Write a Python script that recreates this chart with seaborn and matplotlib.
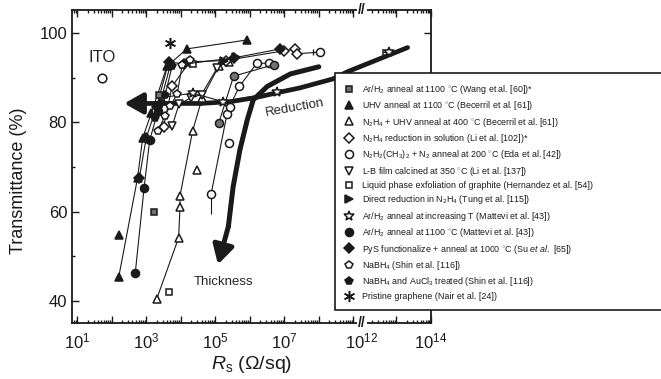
import numpy as np
import matplotlib
matplotlib.use("Agg")
import matplotlib.pyplot as plt
import seaborn as sns
from matplotlib.lines import Line2D
from matplotlib.ticker import FixedLocator, FixedFormatter

# ---- data (R_s in Ohm/sq, transmittance in %) ----
wang_R = [1.7e3, 2.4e3]
wang_T = [59.9, 86.0]

uhv_R = [1.6e2, 5.6e2, 7.9e2, 1.4e3, 4.0e3, 1.5e4, 8.3e5]
uhv_T = [45.4, 67.5, 76.5, 82.0, 92.5, 96.4, 98.4]
uhv_iso_R = [1.6e2]
uhv_iso_T = [54.7]

n2h4_uhv_R = [2.0e3, 8.7e3, 9.5e3, 9.5e3, 2.2e4, 4.2e4, 1.26e5, 2.5e5]
n2h4_uhv_T = [40.4, 54.2, 61.0, 63.5, 78.0, 85.5, 92.5, 93.5]
n2h4_uhv_iso_R = [3.0e4]
n2h4_uhv_iso_T = [69.3]

li_R = [3.2e3, 5.6e3, 1.8e4, 2.0e5, 1.0e7, 2.0e7, 2.3e7]
li_T = [79.0, 88.0, 93.5, 93.8, 96.0, 96.4, 95.3]

eda_R = [7.6e4, 2.2e5, 2.6e5, 5.0e5, 1.6e6, 3.5e6]
eda_T = [64.0, 81.9, 83.5, 88.0, 93.2, 93.2]
eda_iso_R = [2.5e5, 1.1e8]
eda_iso_T = [75.4, 95.7]
eda2_R = [1.26e5, 3.4e5, 5.1e6]
eda2_T = [79.8, 90.3, 92.9]

ito_R = [52]
ito_T = [90.0]

lb_R = [5.6e3, 8.9e3, 2.0e4, 4.0e4, 1.15e5]
lb_T = [79.1, 84.0, 85.5, 86.2, 92.2]

hern_R = [4.5e3, 2.2e4]
hern_T = [42.0, 93.0]

tung_R = [1.8e5, 4.0e5]
tung_T = [93.8, 94.5]

mat_incT_R = [2.8e3, 2.2e4, 1.7e5, 6.3e6]
mat_incT_T = [85.5, 86.5, 84.6, 86.8]
mat_far_R = [6.2e12]
mat_far_T = [95.8]
mat_far_err = [4.2e12]

mat1100_R = [4.8e2, 8.7e2, 1.26e3, 2.2e3, 5.0e3]
mat1100_T = [46.2, 65.4, 76.0, 82.5, 92.8]

pys_R = [6.3e2, 1.0e3, 2.0e3, 4.5e3, 1.26e4, 3.5e5, 7.6e6]
pys_T = [67.5, 76.5, 83.5, 93.5, 93.0, 94.4, 96.4]

nabh4_R = [2.2e3, 3.5e3, 5.0e3, 7.9e3, 1.1e4, 1.9e4]
nabh4_T = [78.0, 81.5, 83.7, 86.3, 92.8, 94.0]

nabh4au_R = [1.8e3, 2.5e3, 3.5e3, 5.6e3]
nabh4au_T = [81.0, 84.0, 86.0, 92.5]

nair_R = [5.0e3]
nair_T = [97.8]

# guide arrows
red_R = [2.1e13, 6.8e8, 2.6e8, 2.9e7, 6.3e6, 1.45e6, 2.7e5, 3.7e4, 2.3e2]
red_T = [96.7, 91.3, 89.7, 87.7, 86.6, 85.5, 84.6, 84.2, 84.2]
thick_R = [1.0e8, 1.5e7, 3.2e6, 1.26e6, 8.5e5, 5.2e5, 3.3e5, 2.4e5, 1.2e5]
thick_T = [92.4, 90.8, 88.0, 85.0, 80.6, 73.9, 65.6, 56.7, 48.2]

labels = [
    r"Ar/H$_2$ anneal at 1100 $^{\circ}$C (Wang et al. [60])*",
    r"UHV anneal at 1100 $^{\circ}$C (Becerril et al. [61])",
    r"N$_2$H$_4$ + UHV anneal at 400 $^{\circ}$C (Becerril et al. [61])",
    r"N$_2$H$_4$ reduction in solution (Li et al. [102])*",
    r"N$_2$H$_2$(CH$_3$)$_2$ + N$_2$ anneal at 200 $^{\circ}$C (Eda et al. [42])",
    r"L-B film calcined at 350 $^{\circ}$C (Li et al. [137])",
    "Liquid phase exfoliation of graphite (Hernandez et al. [54])",
    r"Direct reduction in N$_2$H$_4$ (Tung et al. [115])",
    r"Ar/H$_2$ anneal at increasing T (Mattevi et al. [43])",
    r"Ar/H$_2$ anneal at 1100 $^{\circ}$C (Mattevi et al. [43])",
    r"PyS functionalize + anneal at 1000 $^{\circ}$C (Su $et\ al.$ [65])",
    r"NaBH$_4$ (Shin et al. [116])",
    r"NaBH$_4$ and AuCl$_3$ treated (Shin et al. [116])",
    "Pristine graphene (Nair et al. [24])",
]

sns.set_theme(style="ticks")
plt.rcParams["font.family"] = ["Liberation Sans", "DejaVu Sans"]
plt.rcParams["mathtext.fontset"] = "custom"
plt.rcParams["mathtext.rm"] = "Liberation Sans"
plt.rcParams["mathtext.it"] = "Liberation Sans:italic"
plt.rcParams["mathtext.bf"] = "Liberation Sans:bold"

# broken log axis: 10^9.2 .. 10^11.95 is cut out
BRK = 9.2
GAP = 2.75


def fwd(x):
    l = np.log10(np.clip(np.asarray(x, dtype=float), 1e-300, None))
    return np.where(l > BRK, l - GAP, l)


def inv(u):
    u = np.asarray(u, dtype=float)
    return np.where(u > BRK, 10 ** (u + GAP), 10 ** u)


fig = plt.figure(figsize=(6.61, 3.79), dpi=100)
ax = fig.add_axes([72 / 661, 1 - 323 / 379, 359 / 661, 313 / 379])
ax.set_xscale("function", functions=(fwd, inv))

MS = 5.8
MEW = 1.1
WHITE = "white"
GRAY = "0.45"


def line(R, T, marker, fc, ms=MS):
    sns.lineplot(x=R, y=T, ax=ax, sort=False, estimator=None, color="k",
                 lw=0.8, marker=marker, ms=ms, mfc=fc, mec="k", mew=MEW,
                 zorder=3)


def pts(R, T, marker, fc, ms=MS):
    sns.lineplot(x=R, y=T, ax=ax, sort=False, estimator=None, color="k",
                 lw=0, marker=marker, ms=ms, mfc=fc, mec="k", mew=MEW,
                 zorder=3)


# thick guide curves
ax.plot(red_R[:-1], red_T[:-1], color="k", lw=3.4, solid_capstyle="round",
        solid_joinstyle="round", zorder=2)
ax.annotate("", xy=(red_R[-1], red_T[-1]), xytext=(red_R[-2], red_T[-2]),
            arrowprops=dict(arrowstyle="-|>,head_length=0.8,head_width=0.45",
                            lw=3.4, color="k", mutation_scale=14,
                            shrinkA=0, shrinkB=0), zorder=2)
ax.plot(thick_R[:-1], thick_T[:-1], color="k", lw=3.6, solid_capstyle="round",
        solid_joinstyle="round", zorder=2)
ax.annotate("", xy=(thick_R[-1], thick_T[-1]), xytext=(thick_R[-2], thick_T[-2]),
            arrowprops=dict(arrowstyle="-|>,head_length=0.8,head_width=0.45",
                            lw=3.6, color="k", mutation_scale=14,
                            shrinkA=0, shrinkB=0), zorder=2)

line(uhv_R, uhv_T, "^", "k")
pts(uhv_iso_R, uhv_iso_T, "^", "k")
line(n2h4_uhv_R, n2h4_uhv_T, "^", WHITE)
pts(n2h4_uhv_iso_R, n2h4_uhv_iso_T, "^", WHITE)
# thin tie from the last diamond to the far open circle
sns.lineplot(x=[li_R[-1], eda_iso_R[1]], y=[li_T[-1], eda_iso_T[1]], ax=ax,
             sort=False, estimator=None, color="k", lw=0.8, zorder=2)
line(li_R, li_T, "D", WHITE, ms=5)
line(eda_R, eda_T, "o", WHITE)
ax.errorbar(eda_R[:1], eda_T[:1], yerr=[[4.5], [0]], fmt="none", ecolor="k",
            elinewidth=0.8, zorder=2)
ax.errorbar(eda_iso_R[1:], eda_iso_T[1:], xerr=[[4.0e7], [0]], fmt="none",
            ecolor="k", elinewidth=0.8, capsize=2, zorder=2)
pts(eda_iso_R, eda_iso_T, "o", WHITE)
line(eda2_R, eda2_T, "o", GRAY)
pts(ito_R, ito_T, "o", WHITE, ms=6.2)
line(lb_R, lb_T, "v", WHITE)
pts(hern_R, hern_T, "s", WHITE, ms=5)
line(tung_R, tung_T, ">", "k")
line(mat_incT_R, mat_incT_T, "*", WHITE, ms=7.5)
ax.errorbar(mat_far_R, mat_far_T,
            xerr=[[mat_far_R[0] - mat_far_err[0]], [0]],
            fmt="*", ms=7.5, mfc=WHITE, mec="k", mew=MEW, ecolor="k",
            elinewidth=0.8, capsize=2, zorder=3)
line(mat1100_R, mat1100_T, "o", "k")
line(pys_R, pys_T, "D", "k", ms=5)
line(nabh4_R, nabh4_T, "p", WHITE)
line(nabh4au_R, nabh4au_T, "p", "k")
pts(wang_R, wang_T, "s", GRAY, ms=5)
pts(nair_R, nair_T, (6, 2, 0), "k", ms=8)

ax.text(ito_R[0], 94.4, "ITO", ha="center", va="center", fontsize=12)
ax.text(2.0e7, 83.3, "Reduction", ha="center", va="center", fontsize=9.5,
        rotation=10)
ax.text(1.7e5, 44.2, "Thickness", ha="center", va="center", fontsize=9.5)

# axes
ax.set_xlim(10 ** 0.85, 1e14)
ax.set_ylim(35.1, 105.1)
major_x = [10.0 ** k for k in list(range(1, 10)) + [12, 13, 14]]
major_lab = [r"$10^{%d}$" % k if k in (1, 3, 5, 7, 12, 14) else ""
             for k in list(range(1, 10)) + [12, 13, 14]]
minor_x = [j * 10.0 ** k for k in list(range(0, 9)) + [12, 13]
           for j in range(2, 10)]
ax.xaxis.set_major_locator(FixedLocator(major_x))
ax.xaxis.set_major_formatter(FixedFormatter(major_lab))
ax.xaxis.set_minor_locator(FixedLocator(minor_x))
ax.set_yticks([40, 60, 80, 100])
ax.set_yticks([50, 70, 90], minor=True)
ax.tick_params(which="both", direction="in", top=True, right=True,
               color="k", width=1.0, labelsize=12, labelcolor="k")
ax.tick_params(which="major", length=5)
ax.tick_params(which="minor", length=2.5)
ax.tick_params(axis="x", which="major", pad=6)
for s in ax.spines.values():
    s.set_linewidth(1.3)
    s.set_color("k")

ax.set_ylabel("Transmittance (%)", fontsize=13, color="k")
ax.yaxis.set_label_coords(-0.125, 0.455)
ax.set_xlabel(r"$R_{\rm s}$ ($\Omega$/sq)", fontsize=14, color="k", labelpad=2)

# axis break marks
for yb in (0, 1):
    ax.text(10 ** 12, yb, "//", transform=ax.get_xaxis_transform(),
            ha="center", va="center", fontsize=10, fontweight="bold",
            color="k", clip_on=False, zorder=6,
            bbox=dict(boxstyle="square,pad=0.05", fc="white", ec="none"))

# legend
handles = [
    Line2D([], [], ls="none", marker="s", ms=5, mfc=GRAY, mec="k", mew=MEW),
    Line2D([], [], ls="none", marker="^", ms=MS, mfc="k", mec="k", mew=MEW),
    Line2D([], [], ls="none", marker="^", ms=MS, mfc=WHITE, mec="k", mew=MEW),
    Line2D([], [], ls="none", marker="D", ms=5, mfc=WHITE, mec="k", mew=MEW),
    Line2D([], [], ls="none", marker="o", ms=MS, mfc=WHITE, mec="k", mew=MEW),
    Line2D([], [], ls="none", marker="v", ms=MS, mfc=WHITE, mec="k", mew=MEW),
    Line2D([], [], ls="none", marker="s", ms=5, mfc=WHITE, mec="k", mew=MEW),
    Line2D([], [], ls="none", marker=">", ms=MS, mfc="k", mec="k", mew=MEW),
    Line2D([], [], ls="none", marker="*", ms=7.5, mfc=WHITE, mec="k", mew=MEW),
    Line2D([], [], ls="none", marker="o", ms=MS, mfc="k", mec="k", mew=MEW),
    Line2D([], [], ls="none", marker="D", ms=5, mfc="k", mec="k", mew=MEW),
    Line2D([], [], ls="none", marker="p", ms=MS, mfc=WHITE, mec="k", mew=MEW),
    Line2D([], [], ls="none", marker="p", ms=MS, mfc="k", mec="k", mew=MEW),
    Line2D([], [], ls="none", marker=(6, 2, 0), ms=8, mfc="k", mec="k", mew=MEW),
]
leg = fig.legend(handles, labels, loc="upper left",
                 bbox_to_anchor=(335 / 661, 0, 0.5, 1 - 73 / 379),
                 mode="expand", fontsize=6.4, frameon=True, fancybox=False,
                 framealpha=1, edgecolor="k", handlelength=1.0,
                 handletextpad=0.9, labelspacing=0.38, borderpad=1.1,
                 borderaxespad=0)
leg.get_frame().set_linewidth(1.2)
for t in leg.get_texts():
    t.set_color("k")

fig.savefig("out.png", dpi=100)
